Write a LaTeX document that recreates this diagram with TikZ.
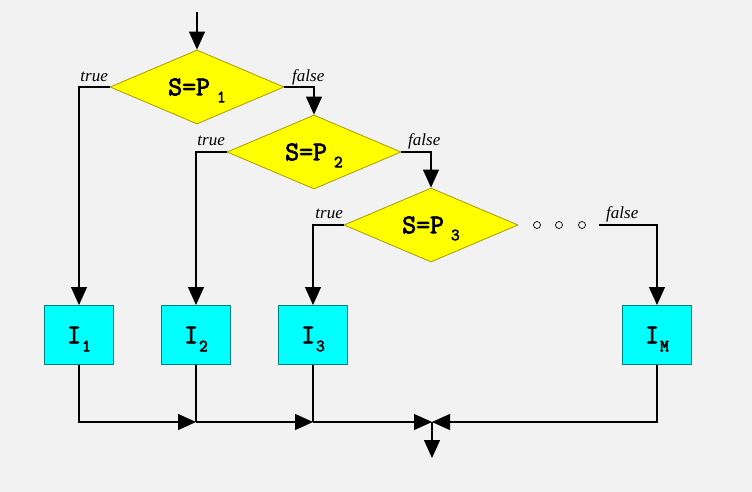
\documentclass[tikz,border=0pt]{standalone}
\usepackage{fontspec}
\setmainfont{Liberation Serif}
\newfontfamily\courb{Latin Modern Mono}[FakeBold=3]
\usetikzlibrary{shapes.geometric,arrows.meta}
\definecolor{bgc}{HTML}{F2F2F2}
\definecolor{diafill}{HTML}{FFFF00}
\definecolor{diaedge}{HTML}{A89A00}
\definecolor{boxfill}{HTML}{00FFFF}
\definecolor{boxedge}{HTML}{00807F}
\newcommand\condtxt[1]{{\fontsize{27}{27}\courb S=P}\hspace{7pt}\raisebox{-7pt}[0pt][0pt]{\fontsize{17}{17}\courb #1}}
\newcommand\instrtxt[1]{{\fontsize{27}{27}\courb I}\hspace{1pt}\raisebox{-8pt}[0pt][0pt]{\fontsize{17}{17}\courb #1}}
\begin{document}
\begin{tikzpicture}[x=1pt,y=-1pt,
  dia/.style={diamond, draw=diaedge, fill=diafill, line width=0.8pt, minimum width=174pt, minimum height=74pt, inner sep=0pt, aspect=2.3},
  instrbox/.style={rectangle, draw=boxedge, fill=boxfill, line width=1pt, minimum width=69pt, minimum height=59pt, inner sep=0pt},
  conn/.style={line width=1.1pt, black},
  arr/.style={conn, -{Triangle[length=18pt,width=16pt]}},
  lbl/.style={font=\fontsize{17}{17}\selectfont\itshape, inner sep=0pt},
  dot/.style={circle, draw, fill=bgc, line width=0.7pt, minimum size=7pt, inner sep=0pt}]
\useasboundingbox[fill=bgc] (0,0) rectangle (752,492);
% decisions
\node[dia] (d1) at (197,87) {\condtxt{1}};
\node[dia] (d2) at (314,152) {\condtxt{2}};
\node[dia] (d3) at (431,225) {\condtxt{3}};
% instructions
\node[instrbox] (i1) at (79,335) {\instrtxt{1}};
\node[instrbox] (i2) at (196,335) {\instrtxt{2}};
\node[instrbox] (i3) at (313,335) {\instrtxt{3}};
\node[instrbox] (im) at (657,335) {\instrtxt{M}};
% dots
\node[dot] (o1) at (537,225) {};
\node[dot] (o2) at (559,225) {};
\node[dot] (o3) at (582,225) {};
% labels
\node[lbl, anchor=base east] (t1) at (108,82) {true};
\node[lbl, anchor=base west] (f1) at (292,82) {false};
\node[lbl, anchor=base east] (t2) at (225,146) {true};
\node[lbl, anchor=base west] (f2) at (408,146) {false};
\node[lbl, anchor=base east] (t3) at (343,218) {true};
\node[lbl, anchor=base west] (f3l) at (606,218) {false};
% coordinates
\coordinate (top) at (197,12);
\coordinate (f3) at (599,225);
\coordinate (j) at (432,422);
\coordinate (out) at (432,458);
\coordinate (b2) at (i2.south |- j);
\coordinate (b3) at (i3.south |- j);
% connectors
\draw[arr] (top) -- (d1.north);
\draw[arr] (d1.west) -| (i1.north);
\draw[arr] (d1.east) -| (d2.north);
\draw[arr] (d2.west) -| (i2.north);
\draw[arr] (d2.east) -| (d3.north);
\draw[arr] (d3.west) -| (i3.north);
\draw[arr] (f3) -| (im.north);
\draw[arr] (i1.south) |- (b2);
\draw[conn] (i2.south) -- (b2);
\draw[arr] (b2) -- (b3);
\draw[conn] (i3.south) -- (b3);
\draw[arr] (b3) -- (j);
\draw[arr] (im.south) |- (j);
\draw[arr] (j) -- (out);
\end{tikzpicture}
\end{document}
